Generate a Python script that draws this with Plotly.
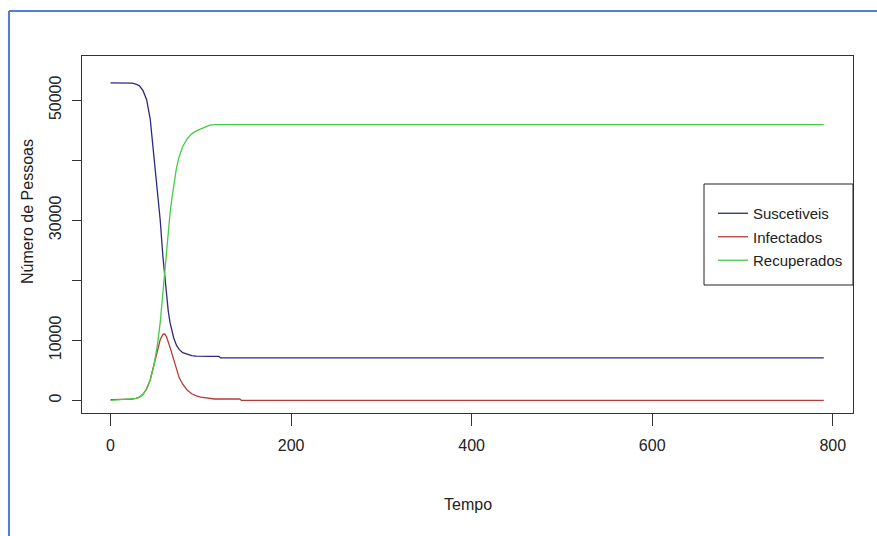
import plotly.graph_objects as go

tempo = [0, 10, 20, 24, 28, 32, 36, 40, 44, 48, 52, 55, 58, 60, 62, 64, 66, 68, 70,
         73, 76, 80, 85, 90, 95, 100, 105, 110, 115, 120, 122, 143, 145, 790]
suscetiveis = [52900, 52900, 52880, 52850, 52700, 52400, 51600, 50100, 46800, 40800,
               34500, 30100, 24000, 20500, 17300, 14800, 12900, 11500, 10400, 9200,
               8500, 7950, 7650, 7450, 7380, 7330, 7330, 7330, 7330, 7330, 7070,
               7070, 7070, 7070]
infectados = [120, 130, 170, 220, 330, 550, 1000, 1900, 3450, 5900, 8500, 10100, 11000,
              11050, 10600, 9800, 8800, 7800, 6700, 5000, 3800, 2700, 1700, 1100, 750,
              550, 450, 300, 230, 230, 230, 230, 0, 0]
recuperados = [0, 100, 170, 220, 330, 550, 1000, 1900, 3450, 5800, 9300, 12900, 18000,
               21500, 25100, 28400, 31300, 33700, 35900, 38700, 40600, 42300, 43600,
               44400, 44900, 45200, 45600, 45850, 45950, 45950, 45950, 45950, 45950,
               45950]

x_ticks = [0, 200, 400, 600, 800]
y_ticks = [0, 10000, 20000, 30000, 40000, 50000]
y_ticklabels = ["0", "10000", "", "30000", "", "50000"]

REG = "Liberation Sans, Arial, sans-serif"
TXT = "#222"

# plot area in pixels: x 82..853, y 56..413
def px_x(p):
    return (p - 82) / 771.0

def px_y(p):
    return (413 - p) / 357.0

fig = go.Figure()
series = [("Suscetiveis", suscetiveis, "#2a2a80"),
          ("Infectados", infectados, "#b83a3a"),
          ("Recuperados", recuperados, "#44cc44")]
for name, vals, col in series:
    fig.add_trace(go.Scatter(x=tempo, y=vals, mode="lines", name=name,
                             legendgroup=name,
                             line=dict(color=col, width=1.3)))

fig.update_layout(
    width=877, height=536,
    margin=dict(l=82, r=24, t=56, b=123),
    paper_bgcolor="white", plot_bgcolor="white",
    showlegend=True,
    legend=dict(x=px_x(713), xanchor="left", y=px_y(197), yanchor="top",
                bgcolor="rgba(0,0,0,0)", borderwidth=0,
                font=dict(family=REG, size=15, color=TXT),
                tracegroupgap=1),
    xaxis=dict(range=[-31.6, 822.4], tickvals=x_ticks, ticks="outside", ticklen=12,
               tickcolor="#333", showline=True, mirror=True, linecolor="#333",
               linewidth=1, showgrid=False, zeroline=False,
               tickfont=dict(family=REG, size=16, color=TXT),
               ticklabelstandoff=6),
    yaxis=dict(range=[-2100, 57370], tickvals=y_ticks, ticktext=y_ticklabels,
               ticks="outside", ticklen=9, tickcolor="#333", showline=True,
               mirror=True, linecolor="#333", linewidth=1, showgrid=False,
               zeroline=False, tickangle=-90,
               tickfont=dict(family=REG, size=16, color=TXT),
               ticklabelstandoff=5),
    annotations=[
        dict(text="Tempo", xref="paper", yref="paper", x=0.5, y=px_y(504),
             xanchor="center", yanchor="middle", showarrow=False,
             font=dict(family=REG, size=16, color=TXT)),
        dict(text="Número de Pessoas", xref="paper", yref="paper", x=px_x(27),
             y=px_y(212), xanchor="center", yanchor="middle", textangle=-90,
             showarrow=False, font=dict(family=REG, size=16, color=TXT)),
    ],
    shapes=[
        dict(type="rect", xref="paper", yref="paper", x0=px_x(704), x1=px_x(853),
             y0=px_y(285), y1=px_y(184), layer="above", fillcolor="white",
             line=dict(color="#222", width=1)),
        dict(type="line", xref="paper", yref="paper", x0=px_x(9), x1=px_x(880),
             y0=px_y(11), y1=px_y(11), line=dict(color="#4f7fd6", width=2)),
        dict(type="line", xref="paper", yref="paper", x0=px_x(9), x1=px_x(9),
             y0=px_y(11), y1=px_y(540), line=dict(color="#4f7fd6", width=2)),
    ],
)

fig.write_html("out.html")
